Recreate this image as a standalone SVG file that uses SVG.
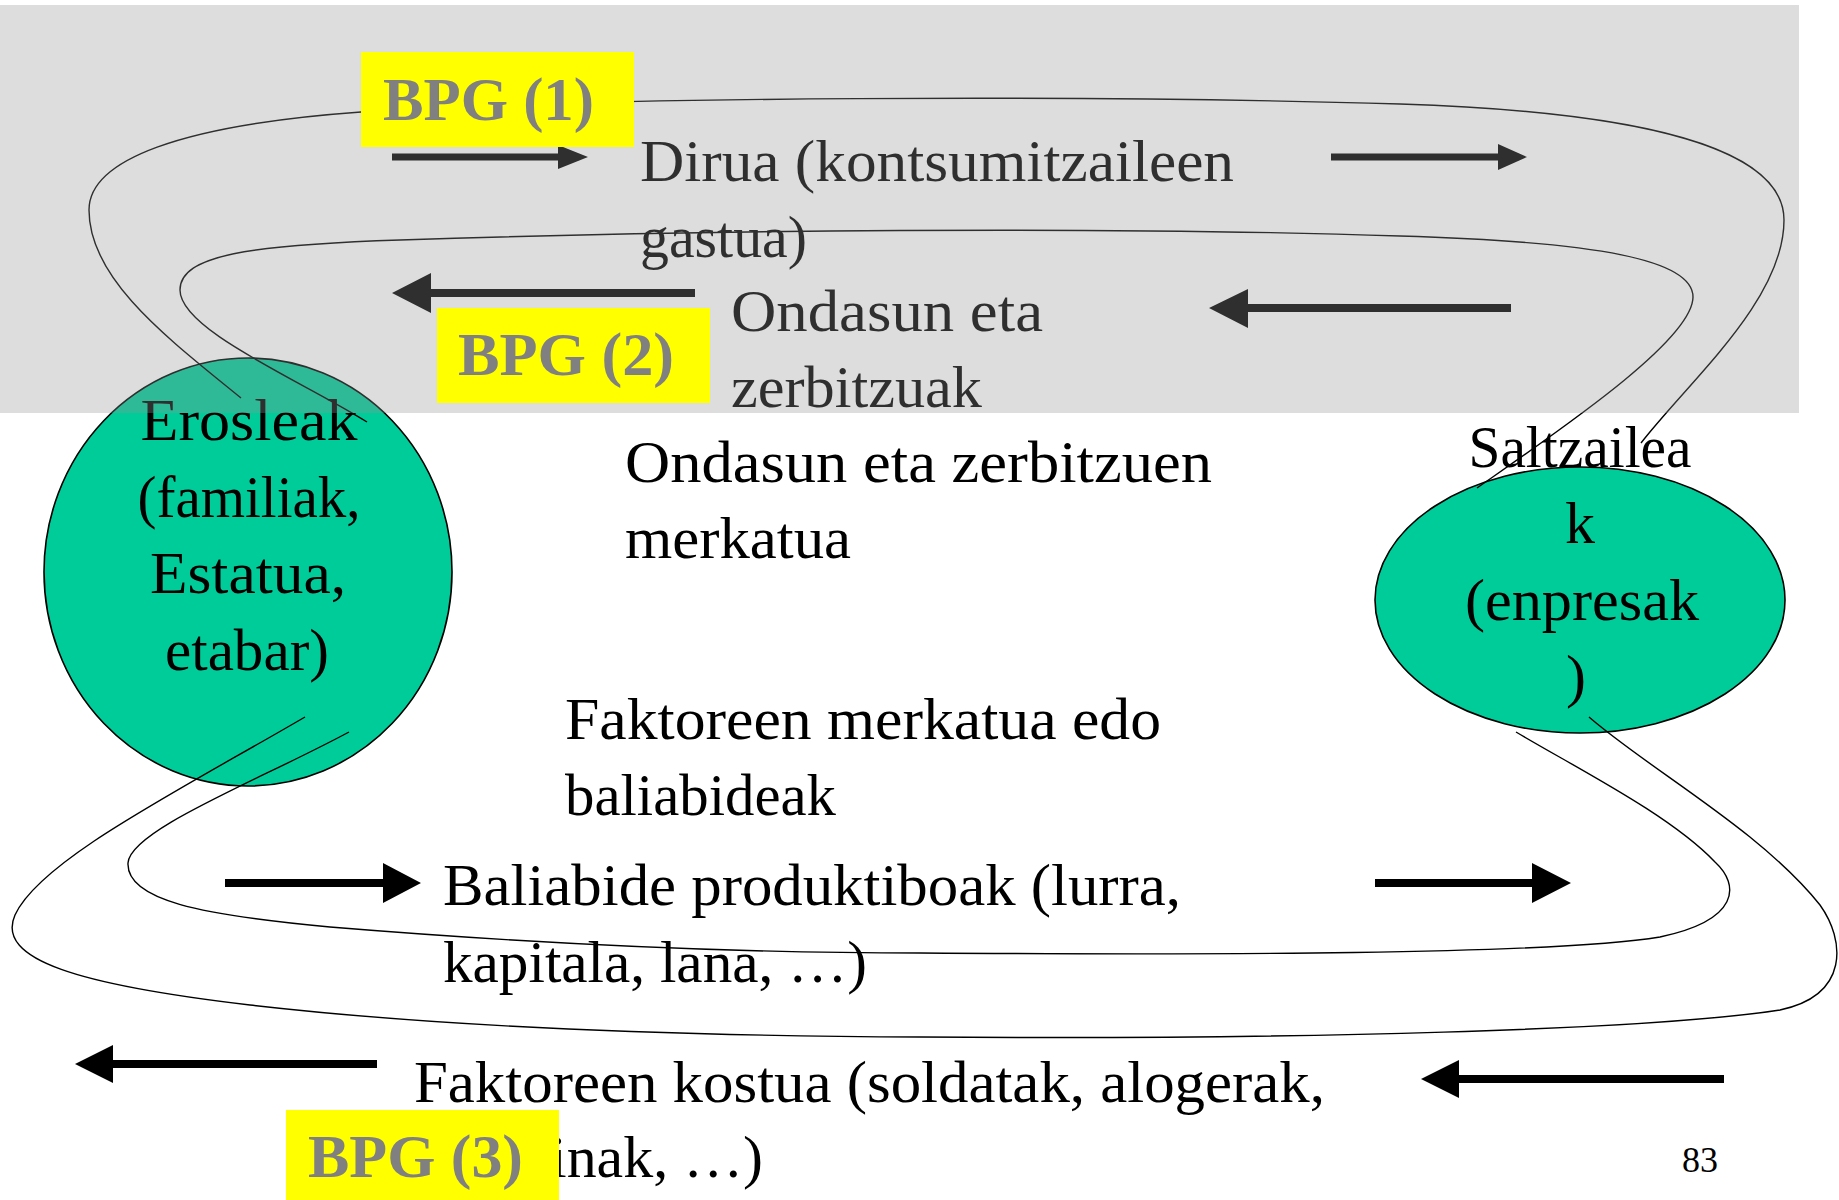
<svg xmlns="http://www.w3.org/2000/svg" width="1839" height="1200" viewBox="0 0 1839 1200">
<style>
.t{font-family:"Liberation Serif","Times New Roman",serif;font-size:60px;fill:#000}
.c{text-anchor:middle}
.bpg{font-family:"Liberation Serif","Times New Roman",serif;font-size:62px;font-weight:bold;fill:#808080}
.box{fill:#FFFF00}
.node{fill:#00CC99;stroke:#000;stroke-width:1.6}
.curve{fill:none;stroke:#000;stroke-width:1.4}
.arrow{fill:#000}
</style>
<rect x="0" y="0" width="1839" height="1200" fill="#FFFFFF"/>
<g id="erosleak">
<ellipse class="node" cx="248" cy="572" rx="204" ry="214"/>
<text class="t c" x="249" y="440" textLength="217" lengthAdjust="spacingAndGlyphs">Erosleak</text>
<text class="t c" x="249" y="517" textLength="223" lengthAdjust="spacingAndGlyphs">(familiak,</text>
<text class="t c" x="248" y="593" textLength="196" lengthAdjust="spacingAndGlyphs">Estatua,</text>
<text class="t c" x="247" y="670" textLength="164" lengthAdjust="spacingAndGlyphs">etabar)</text>
</g>
<g id="saltzaileak">
<ellipse class="node" cx="1580" cy="600" rx="205" ry="133"/>
<text class="t c" x="1580" y="467" textLength="223" lengthAdjust="spacingAndGlyphs">Saltzailea</text>
<text class="t c" x="1580" y="543">k</text>
<text class="t c" x="1582" y="620" textLength="234" lengthAdjust="spacingAndGlyphs">(enpresak</text>
<text class="t c" x="1576" y="696">)</text>
</g>
<g id="labels">
<text class="t" x="640" y="181" textLength="594" lengthAdjust="spacingAndGlyphs">Dirua (kontsumitzaileen</text>
<text class="t" x="640" y="257" textLength="167" lengthAdjust="spacingAndGlyphs">gastua)</text>
<text class="t" x="731" y="331" textLength="312" lengthAdjust="spacingAndGlyphs">Ondasun eta</text>
<text class="t" x="731" y="407" textLength="251" lengthAdjust="spacingAndGlyphs">zerbitzuak</text>
<text class="t" x="625" y="482" textLength="587" lengthAdjust="spacingAndGlyphs">Ondasun eta zerbitzuen</text>
<text class="t" x="625" y="558" textLength="226" lengthAdjust="spacingAndGlyphs">merkatua</text>
<text class="t" x="565" y="739" textLength="596" lengthAdjust="spacingAndGlyphs">Faktoreen merkatua edo</text>
<text class="t" x="565" y="815" textLength="271" lengthAdjust="spacingAndGlyphs">baliabideak</text>
<text class="t" x="443" y="905" textLength="738" lengthAdjust="spacingAndGlyphs">Baliabide produktiboak (lurra,</text>
<text class="t" x="443" y="982" textLength="424" lengthAdjust="spacingAndGlyphs">kapitala, lana, …)</text>
<text class="t" x="414" y="1102" textLength="911" lengthAdjust="spacingAndGlyphs">Faktoreen kostua (soldatak, alogerak,</text>
<text class="t" x="550" y="1177" textLength="213" lengthAdjust="spacingAndGlyphs">inak, …)</text>
<text class="t" x="1682" y="1172" style="font-size:36px">83</text>
</g>
<g id="arrows">
<path class="arrow" d="M392,153.5 H558 V145 L588,157 L558,169 V160.5 H392 Z"/>
<path class="arrow" d="M1331,153.5 H1498 V144 L1527,157 L1498,170 V160.5 H1331 Z"/>
<path class="arrow" d="M695,289 H431 V273 L392,293 L431,313 V297 H695 Z"/>
<path class="arrow" d="M1511,304 H1248 V289 L1209,308 L1248,328 V312 H1511 Z"/>
<path class="arrow" d="M225,879 H383 V863 L421,883 L383,903 V887 H225 Z"/>
<path class="arrow" d="M1375,879 H1532 V863 L1571,883 L1532,903 V887 H1375 Z"/>
<path class="arrow" d="M377,1060 H113 V1045 L75,1064 L113,1083 V1068 H377 Z"/>
<path class="arrow" d="M1724,1075 H1459 V1060 L1421,1079 L1459,1098 V1083 H1724 Z"/>
</g>
<g id="connectors">
<path class="curve" d="M241,398 C170,340 89,280 89,210 C89,160 180,125 361,112 C600,96 1100,95 1400,104 C1650,112 1784,150 1784,220 C1784,300 1690,380 1641,443"/>
<path class="curve" d="M367,422 C300,380 180,330 180,290 C180,255 250,245 400,240 C700,230 1100,226 1400,236 C1600,242 1693,260 1693,297 C1693,340 1560,430 1477,488"/>
<path class="curve" d="M305,717 C180,790 40,860 15,915 C-5,960 80,985 250,1005 C450,1028 700,1036 920,1037 C1300,1040 1650,1030 1780,1010 C1850,995 1845,940 1820,905 C1760,830 1650,770 1589,717"/>
<path class="curve" d="M349,732 C260,780 130,830 128,863 C126,900 200,915 330,927 C550,945 750,953 920,953 C1200,955 1550,955 1660,937 C1740,920 1740,885 1715,862 C1670,815 1580,770 1516,732"/>
</g>
<rect id="market-band" x="0" y="5" width="1799" height="408" fill="#949494" fill-opacity="0.318"/>
<g id="bpg1">
<rect class="box" x="361" y="52" width="273" height="95"/>
<text class="bpg" x="383" y="120" textLength="211" lengthAdjust="spacingAndGlyphs">BPG (1)</text>
</g>
<g id="bpg2">
<rect class="box" x="437" y="308" width="273" height="95"/>
<text class="bpg" x="458" y="375" textLength="216" lengthAdjust="spacingAndGlyphs">BPG (2)</text>
</g>
<g id="bpg3">
<rect class="box" x="286" y="1110" width="273" height="95"/>
<text class="bpg" x="308" y="1177" textLength="215" lengthAdjust="spacingAndGlyphs">BPG (3)</text>
</g>
</svg>
